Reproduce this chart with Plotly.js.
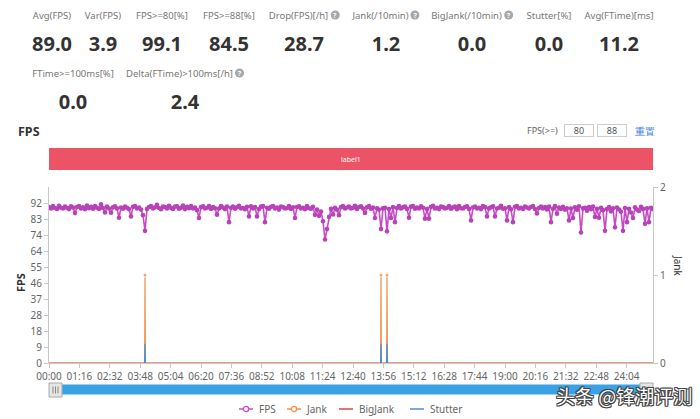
<!DOCTYPE html>
<html>
<head>
<meta charset="utf-8">
<script src="https://cdn.plot.ly/plotly-3.0.1.min.js"></script>
<style>
  html, body { margin:0; padding:0; background:#fff; width:700px; height:419px; overflow:hidden; font-family:"Noto Sans", "Open Sans", sans-serif; }
  #chart { position:absolute; left:0; top:0; width:700px; height:419px; }
  #overlay { position:absolute; left:0; top:0; width:700px; height:419px; pointer-events:none; z-index:5; }
  .lbl { position:absolute; font-size:9.5px; color:#777; white-space:nowrap; transform:translate(-50%,-50%); }
  .val { position:absolute; font-size:20px; font-weight:700; color:#333; white-space:nowrap; transform:translate(-50%,-50%); }
  .help { display:inline-block; width:9px; height:9px; border-radius:50%; background:#a8a8a8; color:#fff; font-size:7px; line-height:9px; text-align:center; font-weight:700; margin-left:2px; vertical-align:middle; position:relative; top:-1px; }
  .title { position:absolute; left:18px; top:123px; font-size:12.5px; font-weight:700; color:#333; }
  .thr { position:absolute; top:124px; font-size:9px; color:#666; white-space:nowrap; }
  .box { position:absolute; top:124px; height:11px; border:1px solid #ccc; font-size:9px; line-height:11px; color:#555; text-align:center; }
  .reset { position:absolute; left:635px; top:124px; font-size:10px; color:#3b78d8; }
  .wm { position:absolute; left:556px; top:386px; font-size:19px; line-height:20px; font-family:"Noto Sans CJK SC", sans-serif; color:#fff; white-space:nowrap;
        text-shadow: 1px 1px 0 #444, -1px -1px 0 #444, 1px -1px 0 #444, -1px 1px 0 #444, 0 1px 0 #444, 1px 0 0 #444, 0 -1px 0 #444, -1px 0 0 #444; }
  .leg { position:absolute; top:403px; height:12px; font-size:10px; color:#666; white-space:nowrap; display:flex; align-items:center; }
  .leg svg { margin-right:6px; }
</style>
</head>
<body>
<div id="chart"></div>
<div id="overlay"></div>
<script>
// ---------------- data ----------------
const STEP = 5; // seconds between FPS samples
const fps = [
  89.6, 88.9, 90.2, 89.1, 88.6, 90.4, 89.3, 88.8, 89.9, 89.2,
  88.5, 90.1, 89.4, 86.2, 89.7, 90.3, 88.9, 89.5, 88.4, 90.6,
  89.0, 89.8, 88.7, 90.2, 89.3, 88.6, 91.2, 89.1, 86.6, 89.9,
  88.8, 86.4, 89.5, 90.1, 88.9, 83.5, 89.4, 88.7, 90.0, 89.2,
  88.5, 84.3, 89.8, 90.3, 88.9, 89.4, 88.2, 85.0, 76.0, 88.6,
  89.7, 90.2, 88.8, 89.5, 91.0, 89.1, 88.4, 90.0, 89.6, 88.9,
  90.4, 89.2, 88.6, 89.9, 90.1, 88.7, 89.3, 90.5, 88.5, 89.8,
  89.0, 90.2, 88.8, 89.4, 87.9, 83.4, 89.6, 90.1, 88.9, 89.3,
  90.3, 88.6, 89.7, 89.0, 85.3, 88.8, 90.2, 89.4, 88.5, 89.9,
  81.0, 89.2, 90.0, 88.7, 89.5, 90.4, 88.9, 89.1, 88.4, 89.8,
  84.3, 90.1, 88.8, 89.6, 84.3, 88.5, 89.9, 90.2, 81.0, 89.3,
  88.7, 89.8, 90.3, 88.9, 89.4, 88.2, 90.0, 89.6, 88.8, 89.1,
  90.2, 88.6, 89.5, 83.4, 89.7, 90.1, 88.9, 89.3, 88.4, 90.3,
  89.0, 88.7, 89.8, 85.2, 88.3, 84.6, 87.1, 81.5, 71.0, 77.0,
  84.0, 88.6, 85.4, 89.2, 88.1, 85.0, 89.6, 90.2, 88.8, 89.4,
  90.0, 88.9, 89.3, 90.4, 88.6, 89.7, 90.1, 88.8, 86.3, 89.5,
  90.2, 88.7, 89.4, 83.4, 89.0, 88.3, 77.0, 88.9, 89.2, 75.7,
  88.5, 83.4, 89.6, 81.0, 89.1, 90.3, 88.8, 89.5, 90.0, 88.6,
  83.5, 89.9, 90.2, 88.7, 89.4, 88.9, 90.1, 89.3, 83.0, 88.6,
  83.0, 89.8, 90.4, 88.9, 89.2, 88.5, 90.0, 89.6, 88.8, 89.3,
  90.2, 88.7, 89.5, 89.9, 88.4, 90.3, 89.0, 88.8, 89.7, 90.1,
  88.6, 82.0, 89.4, 90.0, 88.9, 89.2, 88.5, 90.2, 89.6, 84.3,
  88.9, 89.5, 90.1, 84.3, 88.8, 89.3, 90.4, 88.7, 89.0, 82.0,
  89.6, 88.4, 81.0, 89.8, 90.2, 88.9, 89.3, 88.6, 90.0, 89.4,
  88.8, 89.7, 90.3, 88.5, 86.0, 89.1, 90.0, 88.9, 89.6, 88.3,
  89.9, 81.0, 88.7, 90.2, 85.8, 89.4, 88.6, 89.8, 88.2, 89.0,
  82.0, 88.8, 83.4, 89.5, 88.1, 90.1, 75.0, 88.9, 89.3, 87.6,
  89.7, 88.4, 90.0, 84.0, 88.6, 83.5, 89.2, 87.9, 76.0, 88.5,
  89.6, 87.2, 88.9, 78.0, 89.4, 88.3, 87.0, 76.0, 89.1, 81.0,
  88.7, 86.5, 83.4, 89.5, 88.2, 87.4, 89.8, 88.6, 80.0, 88.9,
  81.0, 89.2, 88.4
];
const jankTimes = [240, 830, 845];      // seconds
const jankValues = [1, 1, 1];
const bigJankTimes = [];
const bigJankValues = [];
const stutterTimes = [240, 830, 845];
const stutterValues = [0.22, 0.22, 0.22];

const xTickLabels = ['00:00','01:16','02:32','03:48','05:04','06:20','07:36','08:52','10:08','11:24',
                     '12:40','13:56','15:12','16:28','17:44','19:00','20:16','21:32','22:48','24:04'];
const yTickVals = [0, 9.2, 18.4, 27.6, 36.8, 46, 55.2, 64.4, 73.6, 82.8, 92];
const yTickText = ['0','9','18','28','37','46','55','64','74','83','92'];
const y2TickVals = [0, 1, 2];

const segNames = ['label1'];
const segStart = [0];
const segEnd = [1510];

const statLabels1 = ['Avg(FPS)','Var(FPS)','FPS>=80[%]','FPS>=88[%]','Drop(FPS)[/h]','Jank(/10min)','BigJank(/10min)','Stutter[%]','Avg(FTime)[ms]'];
const statValues1 = ['89.0','3.9','99.1','84.5','28.7','1.2','0.0','0.0','11.2'];
const statHelp1   = [false,false,false,false,true,true,true,false,false];
const statLabels2 = ['FTime>=100ms[%]','Delta(FTime)>100ms[/h]'];
const statValues2 = ['0.0','2.4'];
const statHelp2   = [false,true];
const fpsThresholds = ['80','88'];

const seriesNames  = ['FPS','Jank','BigJank','Stutter'];
const seriesColors = ['#c64cc6','#f0924a','#dd4444','#4a8ed8'];

// ---------------- layout helpers ----------------
const row1X = [52, 103, 162, 229, 304, 386, 472, 549, 619];
const row2X = [73, 185];
const ov = document.getElementById('overlay');
function esc(s) { return s.replace(/&/g,'&amp;').replace(/</g,'&lt;').replace(/>/g,'&gt;'); }
function addStat(label, value, help, cx, ly, vy) {
  const l = document.createElement('div');
  l.className = 'lbl';
  l.style.left = cx + 'px'; l.style.top = ly + 'px';
  l.innerHTML = esc(label) + (help ? '<span class="help">?</span>' : '');
  ov.appendChild(l);
  const v = document.createElement('div');
  v.className = 'val';
  v.style.left = cx + 'px'; v.style.top = vy + 'px';
  v.textContent = value;
  ov.appendChild(v);
}
statLabels1.forEach((s, i) => addStat(s, statValues1[i], statHelp1[i], row1X[i], 15, 43));
statLabels2.forEach((s, i) => addStat(s, statValues2[i], statHelp2[i], row2X[i], 73, 101));

ov.insertAdjacentHTML('beforeend',
  '<div class="title">FPS</div>' +
  '<div class="thr" style="left:527px">FPS(&gt;=)</div>' +
  '<div class="box" style="left:564px;width:28px">' + fpsThresholds[0] + '</div>' +
  '<div class="box" style="left:597px;width:28px">' + fpsThresholds[1] + '</div>' +
  '<div class="reset">重置</div>');

// custom legend (echarts style: short line, circle marker for FPS/Jank)
const legendLeft = [239, 287, 339, 410];
const legendMarker = [true, true, false, false];
seriesNames.forEach((n, i) => {
  const c = seriesColors[i];
  const svg = '<svg width="14" height="10"><line x1="0" y1="5" x2="14" y2="5" stroke="' + c + '" stroke-width="1.5"/>' +
    (legendMarker[i] ? '<circle cx="7" cy="5" r="2.6" fill="#fff" stroke="' + c + '" stroke-width="1.3"/>' : '') + '</svg>';
  ov.insertAdjacentHTML('beforeend', '<div class="leg" style="left:' + legendLeft[i] + 'px">' + svg + esc(n) + '</div>');
});
ov.insertAdjacentHTML('beforeend', '<div class="wm">头条 @锋潮评测</div>');

// ---------------- traces ----------------
const fpsX = fps.map((_, i) => i * STEP);
const END = fpsX[fpsX.length - 1];

function spikes(times, vals, withBase) {
  const x = [], y = [];
  if (withBase) { x.push(0); y.push(0); }
  times.forEach((t, i) => {
    if (!withBase && x.length) { x.push(null); y.push(null); }
    x.push(t - 1, t, t + 1); y.push(0, vals[i], 0);
  });
  if (withBase) { x.push(END); y.push(0); }
  return {x, y};
}
const jk = spikes(jankTimes, jankValues, true);
const bj = spikes(bigJankTimes, bigJankValues, true);
const st = spikes(stutterTimes, stutterValues, false);

const traces = [
  { name:seriesNames[0], x:fpsX, y:fps, type:'scatter', mode:'lines+markers', yaxis:'y',
    line:{color:seriesColors[0], width:1.6}, marker:{color:'#b843b8', size:4.6} },
  { name:seriesNames[2], x:bj.x, y:bj.y, type:'scatter', mode:'lines', yaxis:'y2',
    line:{color:seriesColors[2], width:1.2} },
  { name:seriesNames[1], x:jk.x, y:jk.y, type:'scatter', mode:'lines+markers', yaxis:'y2',
    line:{color:seriesColors[1], width:1.2}, marker:{color:seriesColors[1], size:jk.y.map(v => v > 0 ? 4 : 0)} },
  { name:seriesNames[3], x:st.x, y:st.y, type:'scatter', mode:'lines', yaxis:'y2',
    line:{color:seriesColors[3], width:1.2}, connectgaps:false }
];

const pxX = px => (px - 49) / 604;
const pxY = py => (363 - py) / 176;

const shapes = [];
const annotations = [];
segNames.forEach((n, i) => {
  shapes.push({type:'rect', xref:'x', yref:'paper', x0:segStart[i], x1:segEnd[i], y0:pxY(170), y1:pxY(148),
               fillcolor:'#ec5366', line:{width:0}, layer:'above'});
  annotations.push({xref:'x', yref:'paper', x:(segStart[i] + segEnd[i]) / 2, y:pxY(159.5), text:n, showarrow:false,
               xanchor:'center', yanchor:'middle', font:{size:7, color:'#fff', family:'Noto Sans'}});
});
// data zoom slider (full range selected)
shapes.push({type:'rect', xref:'paper', yref:'paper', x0:pxX(61), x1:pxX(641), y0:pxY(394.5), y1:pxY(384.5), fillcolor:'#3aa2e4', line:{width:0}});
[[49, 62], [640, 653]].forEach(h => {
  shapes.push({type:'rect', xref:'paper', yref:'paper', x0:pxX(h[0]), x1:pxX(h[1]), y0:pxY(397), y1:pxY(383),
               fillcolor:'#e6e6e6', line:{color:'#a8a8a8', width:1}});
  [4, 6.5, 9].forEach(o => shapes.push({type:'line', xref:'paper', yref:'paper', x0:pxX(h[0] + o), x1:pxX(h[0] + o),
               y0:pxY(393.5), y1:pxY(386.5), line:{color:'#888', width:1}}));
});
annotations.push({xref:'paper', yref:'paper', x:pxX(20), y:pxY(283), text:'<b>FPS</b>', textangle:-90, showarrow:false,
                  xanchor:'center', yanchor:'middle', font:{size:11, color:'#333', family:'Noto Sans'}});
annotations.push({xref:'paper', yref:'paper', x:pxX(678), y:pxY(266), text:'Jank', textangle:90, showarrow:false,
                  xanchor:'center', yanchor:'middle', font:{size:10, color:'#333', family:'Noto Sans'}});

const tickSec = xTickLabels.map(s => { const p = s.split(':'); return (+p[0]) * 60 + (+p[1]); });

const layout = {
  width:700, height:419,
  margin:{l:49, r:47, t:187, b:56, pad:0, autoexpand:false},
  paper_bgcolor:'#fff', plot_bgcolor:'#fff',
  font:{family:'Noto Sans, Open Sans, sans-serif', size:10, color:'#666'},
  showlegend:false,
  xaxis:{range:[0, END], tickmode:'array', tickvals:tickSec, ticktext:xTickLabels, showgrid:false, zeroline:false,
         showline:true, linecolor:'#c8c8c8', ticks:'outside', ticklen:4, tickcolor:'#c8c8c8',
         tickfont:{size:10, color:'#666'}, fixedrange:true, automargin:false},
  yaxis:{range:[0, 101.2], tickmode:'array', tickvals:yTickVals, ticktext:yTickText, showgrid:false, zeroline:false,
         showline:true, linecolor:'#c8c8c8', ticks:'outside', ticklen:4, tickcolor:'#c8c8c8',
         tickfont:{size:10, color:'#666'}, fixedrange:true, automargin:false},
  yaxis2:{range:[0, 2], overlaying:'y', side:'right', tickmode:'array', tickvals:y2TickVals, showgrid:false, zeroline:false,
          showline:true, linecolor:'#c8c8c8', ticks:'outside', ticklen:4, tickcolor:'#c8c8c8',
          tickfont:{size:10, color:'#666'}, fixedrange:true, automargin:false},
  shapes:shapes,
  annotations:annotations
};

Plotly.newPlot('chart', traces, layout, {displayModeBar:false, staticPlot:true});
</script>
</body>
</html>
